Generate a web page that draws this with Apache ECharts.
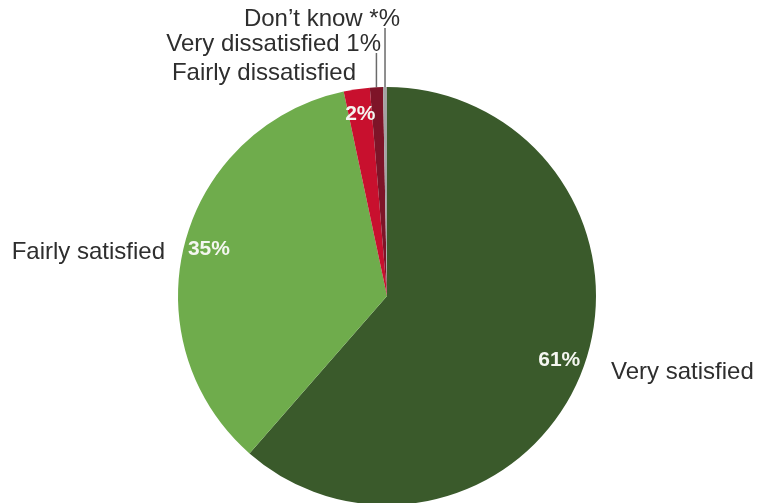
<!DOCTYPE html>
<html>
<head>
<meta charset="utf-8">
<script src="https://cdn.jsdelivr.net/npm/echarts@6/dist/echarts.min.js"></script>
<style>
  html, body { margin: 0; padding: 0; background: #ffffff; }
  #chart { width: 759px; height: 503px; }
</style>
</head>
<body>
<div id="chart"></div>
<script>
// Satisfaction survey shares (percent), clockwise from 12 o'clock
const categories = ['Very satisfied', 'Fairly satisfied', 'Fairly dissatisfied', 'Very dissatisfied', 'Don\u2019t know'];
const shares = [61, 35, 2, 1, 0.3];
const shareText = ['61%', '35%', '2%', '1%', '*%'];
// which shares are printed on the slice, and which are appended to the outside name
const showInside = [true, true, true, false, false];
const showInName = [false, false, false, true, true];

const sliceColors = ['#3a5a2b', '#6fac4c', '#c8102e', '#7e1428', '#a3a3a3'];

// Outside name placement: [x, y, align]
const namePlacement = [
  [611, 372, 'left'],
  [165, 252, 'right'],
  [356, 73, 'right'],
  [381, 44, 'right'],
  [400, 19, 'right']
];
const leaderLine = [false, false, false, true, true];

const chart = echarts.init(document.getElementById('chart'), null, { renderer: 'canvas' });

const center = [387, 296];
const pieRadius = 209;

const baseData = categories.map((name, i) => ({
  name: name,
  value: shares[i],
  itemStyle: { color: sliceColors[i] }
}));

chart.setOption({
  animation: false,
  backgroundColor: '#ffffff',
  series: [
    {
      // coloured slices with the outside category names
      type: 'pie',
      center: center,
      radius: pieRadius,
      startAngle: 90,
      clockwise: true,
      avoidLabelOverlap: false,
      silent: true,
      data: baseData.map((d, i) => Object.assign({}, d, {
        label: {
          show: true,
          position: 'outside',
          formatter: showInName[i] ? categories[i] + ' ' + shareText[i] : categories[i]
        },
        labelLine: { show: leaderLine[i] }
      })),
      label: {
        color: '#2e2e2e',
        fontFamily: 'Liberation Sans, Arial, sans-serif',
        fontSize: 24
      },
      labelLine: {
        show: false,
        length: 10,
        length2: 0,
        smooth: false,
        lineStyle: { color: '#6a6a6a', width: 1.5 }
      },
      labelLayout: function (params) {
        const p = namePlacement[params.dataIndex];
        const out = { x: p[0], y: p[1], align: p[2], verticalAlign: 'middle' };
        if (leaderLine[params.dataIndex] && params.labelLinePoints) {
          const a = params.labelLinePoints[0];
          const top = p[1] + 9;
          out.labelLinePoints = [[a[0], a[1]], [a[0], top], [a[0], top]];
        }
        return out;
      }
    },
    {
      // transparent ring that carries the percentages printed on the slices
      type: 'pie',
      center: center,
      radius: [171, 191],
      startAngle: 90,
      clockwise: true,
      silent: true,
      avoidLabelOverlap: false,
      itemStyle: { color: 'rgba(0,0,0,0)' },
      data: categories.map((name, i) => ({
        name: name,
        value: shares[i],
        label: { show: showInside[i] }
      })),
      label: {
        position: 'inside',
        formatter: function (p) { return shareText[p.dataIndex]; },
        color: '#f4f6f0',
        fontFamily: 'Liberation Sans, Arial, sans-serif',
        fontWeight: 'bold',
        fontSize: 21
      },
      labelLine: { show: false }
    }
  ]
});
</script>
</body>
</html>
